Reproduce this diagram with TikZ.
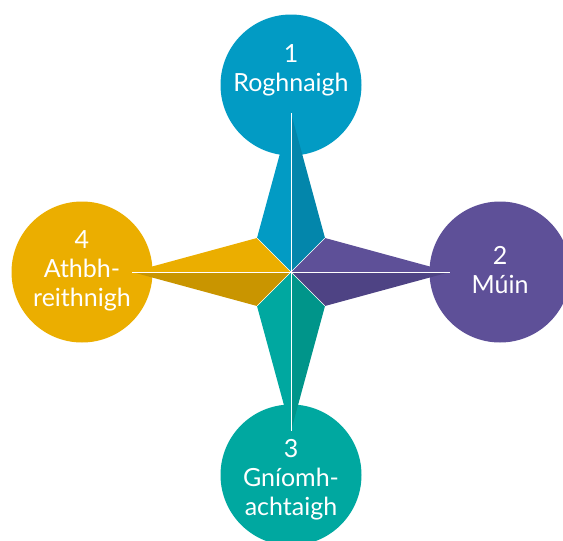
\documentclass[tikz,border=0pt]{standalone}
\usepackage{fontspec}
\setmainfont{Lato}
\definecolor{roghnaigh}{HTML}{029BC4}
\definecolor{roghnaighdark}{HTML}{0386AB}
\definecolor{muin}{HTML}{5E5098}
\definecolor{muindark}{HTML}{4E4384}
\definecolor{gniomh}{HTML}{00A8A0}
\definecolor{gniomhdark}{HTML}{00958A}
\definecolor{athbh}{HTML}{EBAE00}
\definecolor{athbhdark}{HTML}{C99500}

\begin{document}
\begin{tikzpicture}[x=1pt,y=-1pt,
  stage/.style = {circle,minimum size=141pt,inner sep=0pt},
  stagetext/.style = {white,align=center,anchor=base,inner sep=0pt,
    font=\fontsize{25}{29}\selectfont},
  ray/.style = {white,line width=1pt}]
\useasboundingbox (0,0) rectangle (563,541);
\clip (0,0) rectangle (563,541);

\node[stage,fill=roghnaigh] (s1) at (291,85) {};
\node[stage,fill=muin] (s2) at (500,272) {};
\node[stage,fill=gniomh] (s3) at (291,475) {};
\node[stage,fill=athbh] (s4) at (82,272) {};

% star
\coordinate (c) at (291,272);
\coordinate (n) at (291,113);
\coordinate (e) at (450,272);
\coordinate (s) at (291,431);
\coordinate (w) at (132,272);
\coordinate (ne) at (325,238);
\coordinate (se) at (325,306);
\coordinate (sw) at (257,306);
\coordinate (nw) at (257,238);

\fill[roghnaigh] (c) -- (n) -- (nw) -- cycle;
\fill[roghnaighdark] (c) -- (n) -- (ne) -- cycle;
\fill[muin] (c) -- (e) -- (ne) -- cycle;
\fill[muindark] (c) -- (e) -- (se) -- cycle;
\fill[gniomh] (c) -- (s) -- (sw) -- cycle;
\fill[gniomhdark] (c) -- (s) -- (se) -- cycle;
\fill[athbh] (c) -- (w) -- (nw) -- cycle;
\fill[athbhdark] (c) -- (w) -- (sw) -- cycle;

\draw[ray] (n) -- (s);
\draw[ray] (w) -- (e);
\draw[ray,line width=0.7pt] (nw) -- (se);
\draw[ray,line width=0.7pt] (ne) -- (sw);

\node[stagetext] (t1) at (291,91) {1\\Roghnaigh};
\node[stagetext] (t2) at (500,293) {2\\Múin};
\node[stagetext] (t3) at (291,515) {3\\Gníomh-\\achtaigh};
\node[stagetext] (t4) at (82,306) {4\\Athbh-\\reithnigh};
\end{tikzpicture}
\end{document}
